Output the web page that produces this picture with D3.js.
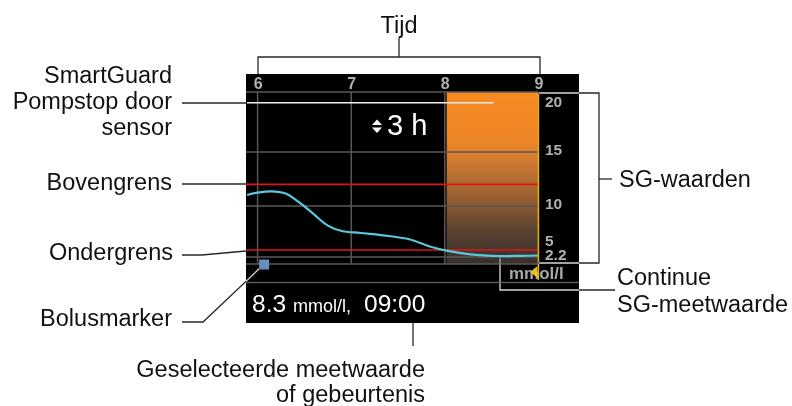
<!DOCTYPE html>
<html><head><meta charset="utf-8">
<script src="https://cdn.jsdelivr.net/npm/d3@7"></script>
<style>
html,body{margin:0;padding:0;background:#fff;}
svg{display:block;font-family:Arial,"Liberation Sans",sans-serif;}
</style></head><body>
<svg id="chart" width="792" height="406"></svg>
<script>
// ---------------- data ----------------
const hourTicks = [6, 7, 8, 9];
const sgTicks = [20, 15, 10, 5, 2.2];
const gridLevels = [20, 15, 10, 2.2];
const sgTimes  = [5.887, 6.0, 6.15, 6.3, 6.45, 6.6, 6.75, 6.9, 7.1, 7.4, 7.62, 7.84, 8.02, 8.27, 8.59, 8.8, 9.0];
const sgValues = [11.02, 11.24, 11.36, 11.15, 10.3, 8.9, 7.35, 6.62, 6.35, 5.95, 5.5, 4.3, 3.46, 2.74, 2.4, 2.42, 2.5];
const highLimit = 12.0;
const lowLimit = 3.6;
const bolusTimes = [6.07];
const suspendPeriod = [8.02, 9.0];
const smartGuardLine = [5.887, 8.52];
const smartGuardLevel = 19.1;
const currentTime = 9.0;
const selectedValue = "8.3", selectedUnit = "mmol/l,", selectedTime = "09:00";
const durationLabel = "3 h";
const unitLabel = "mmol/l";

// ---------------- layout ----------------
const svg = d3.select("#chart");
const screen = {x0: 246, y0: 74, x1: 579, y1: 323};
const plotBottom = 264;
const x = d3.scaleLinear().domain([6, 9]).range([257.6, 538.4]);
const y = d3.scaleLinear().domain([2.2, 5, 10, 15, 20]).range([257, 243, 206, 152, 92]);
const xLeft = screen.x0, xRight = x(currentTime);

svg.append("rect").attr("width", 792).attr("height", 406).attr("fill", "#fff");
svg.append("rect").attr("x", screen.x0).attr("y", screen.y0)
  .attr("width", screen.x1 - screen.x0).attr("height", screen.y1 - screen.y0).attr("fill", "#000");

// gradient
const defs = svg.append("defs");
const grad = defs.append("linearGradient").attr("id", "susp").attr("x1", 0).attr("y1", 0).attr("x2", 0).attr("y2", 1);
[[0, "#f68a22"], [0.28, "#ee8526"], [0.4, "#cf7a30"], [0.6, "#9c6133"], [0.8, "#5c4431"], [1, "#38302d"]]
  .forEach(([o, c]) => grad.append("stop").attr("offset", o).attr("stop-color", c));

// suspend box
svg.append("rect").attr("x", x(suspendPeriod[0])).attr("y", y(20))
  .attr("width", x(suspendPeriod[1]) - x(suspendPeriod[0])).attr("height", plotBottom - y(20))
  .attr("fill", "url(#susp)");

// grid
const grid = svg.append("g").attr("stroke", "#585858").attr("stroke-width", 1.5);
grid.selectAll("line.h").data(gridLevels).join("line")
  .attr("x1", xLeft).attr("x2", xRight).attr("y1", d => y(d)).attr("y2", d => y(d));
grid.append("line").attr("x1", xLeft).attr("x2", xRight).attr("y1", plotBottom).attr("y2", plotBottom);
grid.selectAll("line.v").data(hourTicks.filter(d => d < currentTime)).join("line")
  .attr("x1", d => x(d)).attr("x2", d => x(d)).attr("y1", y(20)).attr("y2", plotBottom);
grid.append("line").attr("x1", screen.x0).attr("x2", screen.x1).attr("y1", 282.5).attr("y2", 282.5);

// limits
svg.selectAll("line.limit").data([highLimit, lowLimit]).join("line")
  .attr("x1", xLeft).attr("x2", xRight).attr("y1", d => y(d)).attr("y2", d => y(d))
  .attr("stroke", "#e01414").attr("stroke-width", 1.6);

// SmartGuard line
svg.append("line").attr("x1", x(smartGuardLine[0])).attr("x2", x(smartGuardLine[1]))
  .attr("y1", y(smartGuardLevel)).attr("y2", y(smartGuardLevel))
  .attr("stroke", "#eee").attr("stroke-width", 1.5);

// SG curve
const pts = sgTimes.map((t, i) => [t, sgValues[i]]);
svg.append("path").datum(pts)
  .attr("d", d3.line().x(d => x(d[0])).y(d => y(d[1])).curve(d3.curveCatmullRom.alpha(0.5)))
  .attr("fill", "none").attr("stroke", "#5cc6dc").attr("stroke-width", 2.2);

// bolus
svg.selectAll("rect.bolus").data(bolusTimes).join("rect")
  .attr("x", d => x(d) - 5).attr("y", plotBottom - 4.5).attr("width", 10).attr("height", 10)
  .attr("fill", "#6a8dbd");

// axis labels
svg.selectAll("text.xt").data(hourTicks).join("text")
  .attr("x", d => x(d) + 0.5).attr("y", 89).attr("text-anchor", "middle")
  .attr("font-size", 16).attr("font-weight", "bold").attr("fill", "#b0b0b0").text(d => d);
svg.selectAll("text.yt").data(sgTicks).join("text")
  .attr("x", 545).attr("y", d => Math.max(y(d) - 3, y(20) + 9) + 5.5)
  .attr("font-size", 15.5).attr("font-weight", "bold").attr("fill", "#b0b0b0").text(d => d);
svg.append("text").attr("x", 509).attr("y", 278.5).attr("font-size", 17).attr("font-weight", "bold")
  .attr("fill", "#a8a8a8").text(unitLabel);

// current-time line and marker
svg.append("line").attr("x1", x(currentTime)).attr("x2", x(currentTime)).attr("y1", y(20)).attr("y2", 280)
  .attr("stroke", "#e8b400").attr("stroke-width", 1.5);
svg.append("path").attr("d", `M${x(currentTime)-8},272 L${x(currentTime)-1},266 L${x(currentTime)-1},278 Z`)
  .attr("fill", "#f0c020");

// duration indicator
const dur = svg.append("g");
dur.append("path").attr("d", "M372,125 L377,119.5 L382,125 Z M372,127.5 L377,133 L382,127.5 Z").attr("fill", "#fff");
dur.append("text").attr("x", 387).attr("y", 135).attr("font-size", 29).attr("fill", "#fff").text(durationLabel);

// selected value
const sel = svg.append("text").attr("x", 252).attr("y", 311.5).attr("fill", "#fff");
sel.append("tspan").attr("font-size", 24.5).text(selectedValue);
sel.append("tspan").attr("font-size", 18).attr("dx", 7).text(selectedUnit);
sel.append("tspan").attr("font-size", 24.5).attr("dx", 13).text(selectedTime);

// ---------------- annotations ----------------
const ann = svg.append("g").attr("stroke", "#d8d8d8").attr("stroke-width", 1.3).attr("fill", "none")
  .style("mix-blend-mode", "difference");
const paths = [
  "M258,74 V57 H540 V74", "M399,57 V38",
  "M182,103 H246",
  "M182,184 H246",
  "M182,255 H202 L246,251",
  "M182,322 H203 L260,268",
  "M538,93 H599 V263 H538", "M599,179 H612",
  "M500,257 V290 H615",
  "M413,323 V346"
];
paths.forEach(p => ann.append("path").attr("d", p));

const lab = svg.append("g").attr("font-size", 23.5).attr("fill", "#111");
const labels = [
  ["Tijd", 399, 32.5, "middle"],
  ["SmartGuard", 172, 82.5, "end"],
  ["Pompstop door", 172, 109, "end"],
  ["sensor", 172, 135, "end"],
  ["Bovengrens", 172, 190, "end"],
  ["Ondergrens", 173, 260, "end"],
  ["Bolusmarker", 172, 326, "end"],
  ["SG-waarden", 619, 187, "start"],
  ["Continue", 617, 285, "start"],
  ["SG-meetwaarde", 617, 311.5, "start"],
  ["Geselecteerde meetwaarde", 425, 376.5, "end"],
  ["of gebeurtenis", 425, 401.5, "end"]
];
labels.forEach(([t, lx, ly, a]) => lab.append("text").attr("x", lx).attr("y", ly).attr("text-anchor", a).text(t));
</script>
</body></html>
